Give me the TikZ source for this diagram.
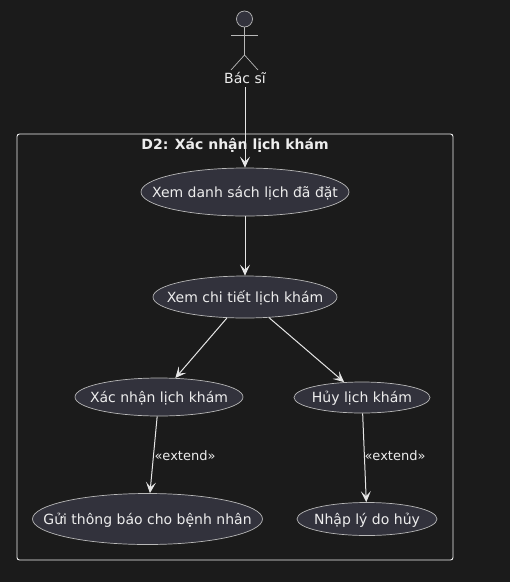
\documentclass[tikz,border=0pt]{standalone}
\usepackage{xcolor}
\usepackage{fontspec}
\setmainfont{DejaVu Sans}
\usepackage{tikz}
\usetikzlibrary{shapes.geometric,arrows.meta}

\definecolor{bgdark}{HTML}{1B1B1B}
\definecolor{casefill}{HTML}{32323C}
\definecolor{caseline}{HTML}{B8B8B8}
\definecolor{linkline}{HTML}{E6E6E6}

% the ellipse shape would grow around its text otherwise
\newcommand{\casetext}[1]{\smash{\raisebox{-5pt}{\makebox[0pt]{#1}}}}

\tikzset{
    usecase/.style={ellipse, draw=caseline, fill=casefill, line width=0.7pt, inner sep=0pt, text=white!93!black},
    lbl/.style={text=white!93!black, font=\fontsize{14}{16}\selectfont, inner sep=0pt},
    link/.style={draw=linkline, line width=1pt, -{Stealth[length=11pt,width=10pt,inset=5pt]}},
}

\begin{document}
\begin{tikzpicture}[x=1pt,y=-1pt,font=\fontsize{14}{16}\selectfont]
    % Background
    \fill[bgdark] (0,0) rectangle (510,582);
    \useasboundingbox (0,0) rectangle (510,582);

    % Draw the frame
    \draw[white!95!black, line width=0.9pt, rounded corners=2.5pt] (17,134) rectangle (453,560);
    \node[lbl, font=\fontsize{14}{16}\selectfont\bfseries] (title) at (235,145) {D2: Xác nhận lịch khám};

    % Actor
    \draw[caseline, fill=casefill, line width=0.7pt] (244.5,19) circle (8);
    \draw[caseline, line width=0.7pt] (244.5,27) -- (244.5,55);
    \draw[caseline, line width=0.7pt] (231,35) -- (258,35);
    \draw[caseline, line width=0.7pt] (231,70) -- (244.5,55) -- (258,70);
    \node[lbl, minimum height=18pt] (bacsi) at (245,78) {Bác sĩ};

    % Use cases
    \node[usecase, minimum width=208pt, minimum height=48pt] (danhsach) at (245,192) {\casetext{Xem danh sách lịch đã đặt}};
    \node[usecase, minimum width=184pt, minimum height=42pt] (chitiet) at (245,297) {\casetext{Xem chi tiết lịch khám}};
    \node[usecase, minimum width=168pt, minimum height=38pt] (xacnhan) at (159,397) {\casetext{Xác nhận lịch khám}};
    \node[usecase, minimum width=136pt, minimum height=31pt] (huy) at (362,397.5) {\casetext{Hủy lịch khám}};
    \node[usecase, minimum width=230pt, minimum height=51pt] (thongbao) at (147.5,519) {\casetext{Gửi thông báo cho bệnh nhân}};
    \node[usecase, minimum width=140pt, minimum height=33pt] (lydo) at (367,519) {\casetext{Nhập lý do hủy}};

    % Links
    \draw[link] (bacsi) -- (danhsach);
    \draw[link] (danhsach) -- (chitiet);
    \draw[link] (chitiet) -- (xacnhan);
    \draw[link] (chitiet) -- (huy);
    \draw[link] (xacnhan) -- (thongbao);
    \draw[link] (huy) -- (lydo);

    % Extend labels
    \node[lbl, font=\fontsize{13}{15}\selectfont] (extenda) at (185,456) {«extend»};
    \node[lbl, font=\fontsize{13}{15}\selectfont] (extendb) at (395,456) {«extend»};
\end{tikzpicture}
\end{document}
